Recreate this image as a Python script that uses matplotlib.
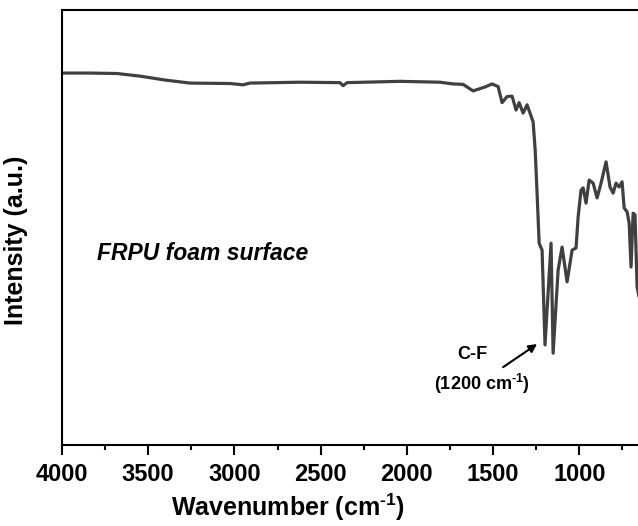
import matplotlib
matplotlib.use("Agg")
import matplotlib.pyplot as plt
from matplotlib.ticker import MultipleLocator, NullLocator

# FTIR spectrum (wavenumber in cm-1, intensity in a.u.)
wavenumber = [4000, 3838, 3681, 3548, 3403, 3258, 3026, 2950, 2910, 2620,
              2388, 2370, 2347, 2040, 1808, 1732, 1674, 1616, 1547, 1506,
              1471, 1448, 1419, 1390, 1367, 1349, 1326, 1303, 1268, 1256,
              1245, 1233, 1216, 1199, 1164, 1152, 1123, 1100, 1071, 1042,
              1019, 1007, 990, 978, 961, 943, 920, 897, 874, 845,
              822, 804, 787, 769, 752, 740, 723, 711, 700, 688,
              677, 665, 648]
intensity = [85.5, 85.5, 85.4, 84.8, 83.9, 83.2, 83.1, 82.8, 83.2, 83.4,
             83.3, 82.6, 83.3, 83.6, 83.4, 83.0, 82.9, 81.4, 82.3, 83.0,
             82.4, 78.7, 80.1, 80.2, 77.0, 78.7, 76.3, 78.2, 74.3, 67.8,
             57.9, 46.4, 44.8, 23.0, 46.4, 21.1, 40.2, 45.5, 37.5, 44.8,
             45.3, 52.4, 58.6, 59.1, 55.6, 60.9, 60.2, 56.8, 60.2, 65.1,
             59.3, 57.9, 60.2, 59.3, 60.5, 54.5, 53.6, 51.0, 40.9, 53.3,
             52.9, 36.3, 33.0]

xticks = [4000, 3500, 3000, 2500, 2000, 1500, 1000]

plt.rcParams['font.family'] = ['Liberation Sans', 'DejaVu Sans']
plt.rcParams['mathtext.fontset'] = 'custom'
plt.rcParams['mathtext.rm'] = 'Liberation Sans:bold'
plt.rcParams['mathtext.bf'] = 'Liberation Sans:bold'

fig = plt.figure(figsize=(6.38, 5.26), dpi=100)
# axes runs past the right edge of the figure, like the cropped original
ax = fig.add_axes([0.0972, 0.154, 0.973, 0.827])

ax.plot(wavenumber, intensity, color='#404040', lw=2.3,
        solid_joinstyle='round', solid_capstyle='round')

ax.set_xlim(4000, 400)
ax.set_ylim(0, 100)
ax.set_xticks(xticks)
ax.xaxis.set_minor_locator(MultipleLocator(250))
ax.yaxis.set_major_locator(NullLocator())
ax.tick_params(axis='x', which='major', direction='out', length=7, width=1.5,
               labelsize=17, pad=6)
ax.tick_params(axis='x', which='minor', direction='out', length=3.5, width=1.5)
for lab in ax.get_xticklabels():
    lab.set_fontweight('bold')
for sp in ax.spines.values():
    sp.set_linewidth(1.5)

ax.set_xlabel(r'Wavenumber (cm$^{\text{-1}}$)', fontsize=18, fontweight='bold')
ax.set_ylabel('Intensity (a.u.)', fontsize=18, fontweight='bold')
ax.xaxis.set_label_coords(0.364, -0.108)
ax.yaxis.set_label_coords(-0.055, 0.471)

ax.text(3795, 44, 'FRPU foam surface', fontsize=16.5, fontweight='bold',
        style='italic', va='center', ha='left')
ax.text(1620, 20.7, 'C-F', fontsize=13, fontweight='bold', ha='center', va='center')
ax.text(1564, 14.0, r'(1200 cm$^{\text{-1}}$)', fontsize=13, fontweight='bold',
        ha='center', va='center')
ax.annotate('', xy=(1245, 23.2), xytext=(1442, 17.9),
            arrowprops=dict(arrowstyle='-|>', color='black', lw=1.5,
                            mutation_scale=12, shrinkA=0, shrinkB=0))

fig.savefig('out.png', dpi=100)
